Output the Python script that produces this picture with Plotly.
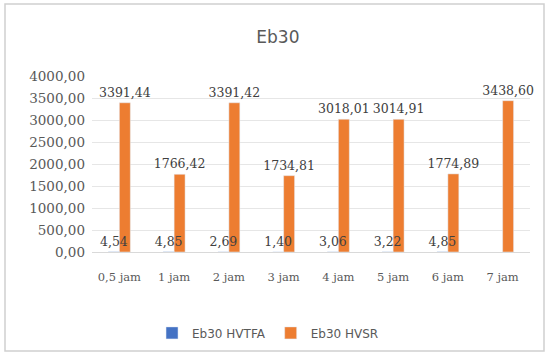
import plotly.graph_objects as go

categories = ["0,5 jam", "1 jam", "2 jam", "3 jam", "4 jam", "5 jam", "6 jam", "7 jam"]
hvtfa = [4.54, 4.85, 2.69, 1.40, 3.06, 3.22, 4.85, None]
hvsr = [3391.44, 1766.42, 3391.42, 1734.81, 3018.01, 3014.91, 1774.89, 3438.60]

FONT = "DejaVu Serif"
BW = 0.2
fig = go.Figure()
# orange drawn first so blue labels sit on top of it (as in the reference)
fig.add_trace(go.Bar(x=categories, y=hvsr, name="Eb30 HVSR", marker_color="#ED7D31",
                     width=BW, offset=0,
                     texttemplate="%{y:.2f}", textposition="outside", cliponaxis=False,
                     constraintext="none",
                     textfont=dict(family=FONT, size=12.5, color="#404040")))
fig.add_trace(go.Bar(x=categories, y=hvtfa, name="Eb30 HVTFA", marker_color="#4472C4",
                     width=BW, offset=-BW,
                     texttemplate="%{y:.2f}", textposition="outside", cliponaxis=False,
                     constraintext="none",
                     textfont=dict(family=FONT, size=12.5, color="#404040")))

fig.update_layout(
    width=547, height=353,
    margin=dict(l=92, r=17, t=76, b=101),
    paper_bgcolor="white", plot_bgcolor="white",
    separators=",.",
    barmode="overlay",
    title=dict(text="Eb30", x=0.508, xanchor="center", y=0.895, yanchor="middle",
               font=dict(family="DejaVu Sans", size=17, color="#595959")),
    font=dict(family=FONT, color="#595959"),
    xaxis=dict(showgrid=False, showline=True, linecolor="#d9d9d9", ticks="",
               tickfont=dict(family=FONT, size=11.5, color="#595959"),
               ticklabelstandoff=14),
    yaxis=dict(range=[0, 4000], dtick=500, tickformat=".2f", showgrid=True,
               gridcolor="#e6e6e6", zeroline=False, showline=False,
               tickfont=dict(family=FONT, size=13.5, color="#595959"),
               ticklabelstandoff=6),
    legend=dict(orientation="h", xref="container", yref="container", x=0.49, xanchor="center",
                y=0.057, yanchor="middle", font=dict(family="DejaVu Sans", size=12, color="#595959"),
                itemwidth=30, traceorder="reversed"),
    showlegend=True,
    shapes=[dict(type="rect", xref="paper", yref="paper",
                 x0=-87/438, x1=1+14/438, y0=-99/176, y1=1+72/176,
                 line=dict(color="#d0d0d0", width=1.5), fillcolor="rgba(0,0,0,0)")],
)

fig.write_html("out.html")
